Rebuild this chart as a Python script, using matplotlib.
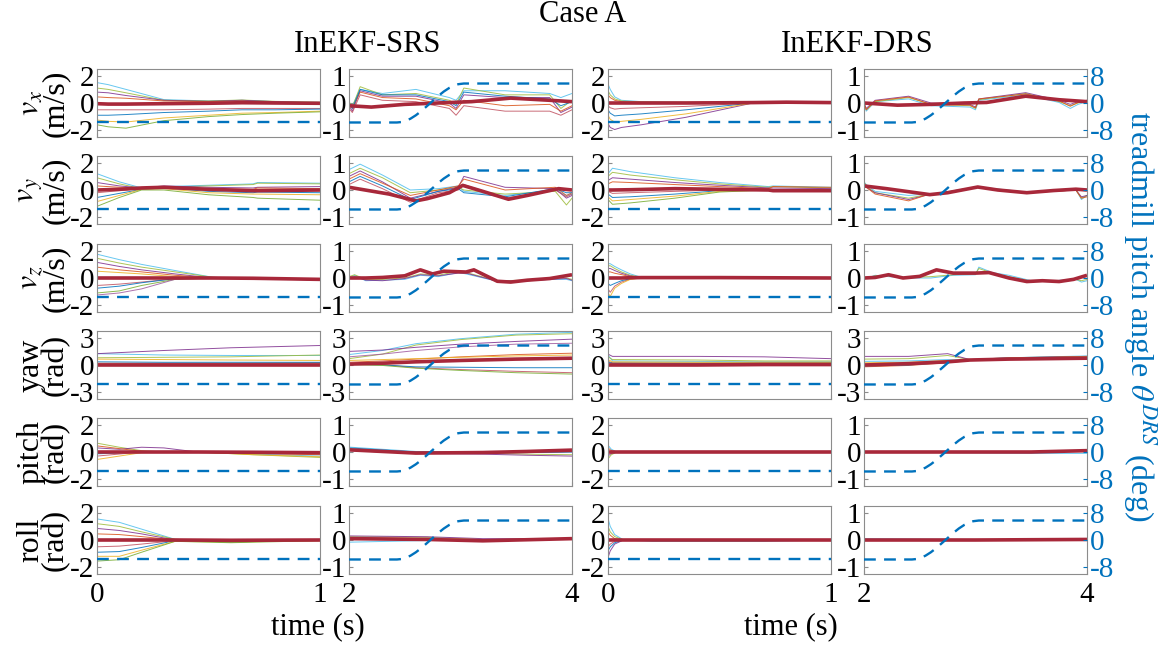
import matplotlib
matplotlib.use('Agg')
import matplotlib.pyplot as plt

plt.rcParams['font.family'] = 'Liberation Serif'
plt.rcParams['mathtext.fontset'] = 'stix'
plt.rcParams['axes.unicode_minus'] = False

# treadmill pitch angle (deg)
tilt_t1 = [0.0, 1.0]
tilt_1 = [-5.73, -5.73]
tilt_t2 = [2.0, 2.43, 2.47, 2.5, 2.55, 2.6, 2.65, 2.72, 2.8, 2.85, 2.9, 2.95, 2.98, 3.03, 4.0]
tilt_2 = [-5.73, -5.73, -5.6, -5.3, -4.64, -3.6, -2.33, -0.3, 2.05, 3.37, 4.45, 5.2, 5.53, 5.73, 5.73]

# ---- v_x ----
vx_srs_a_t = [0, 0.05, 0.13, 0.3, 0.5, 0.65, 0.8, 1.0]
vx_srs_a = [[1.5, 1.35, 1.0, 0.25, 0.15, 0.2, 0.1, 0.05],
            [1.1, 1.0, 0.75, 0.2, 0.15, 0.22, 0.12, 0.05],
            [0.8, 0.75, 0.55, 0.2, 0.12, 0.2, 0.1, 0.0],
            [0.45, 0.4, 0.35, 0.15, 0.1, 0.15, 0.05, -0.05],
            [-0.5, -0.5, -0.5, -0.5, -0.45, -0.4, -0.4, -0.4],
            [-0.9, -0.9, -0.85, -0.7, -0.6, -0.5, -0.5, -0.45],
            [-1.25, -1.35, -1.4, -1.1, -0.9, -0.75, -0.7, -0.6],
            [-1.6, -1.75, -1.85, -1.3, -1.0, -0.85, -0.75, -0.65]]
vx_srs_a_mean = [-0.05, -0.08, -0.08, -0.05, -0.02, 0.02, 0.0, -0.02]

vx_srs_b_t = [2.0, 2.03, 2.1, 2.3, 2.6, 2.9, 2.96, 3.03, 3.4, 3.8, 3.9, 4.0]
vx_srs_b = [[0.0, -0.1, 0.5, 0.35, 0.5, 0.2, 0.1, 0.45, 0.45, 0.35, 0.2, 0.35],
            [0.05, -0.15, 0.6, 0.3, 0.35, 0.1, -0.05, 0.55, 0.3, 0.3, -0.2, 0.1],
            [-0.1, -0.3, 0.45, 0.25, 0.25, 0.0, -0.2, 0.3, 0.2, 0.2, -0.35, -0.15],
            [-0.05, -0.2, 0.4, 0.2, 0.15, -0.1, -0.25, 0.1, -0.1, -0.05, -0.3, -0.1],
            [-0.2, -0.35, 0.3, 0.1, 0.05, -0.2, -0.45, -0.1, -0.3, -0.3, -0.45, -0.25],
            [0.0, -0.2, 0.5, 0.3, 0.3, 0.05, -0.1, 0.4, 0.25, 0.15, -0.1, 0.05]]
vx_srs_b_mt = [2.0, 2.2, 2.5, 2.8, 3.1, 3.45, 3.8, 4.0]
vx_srs_b_mean = [-0.1, -0.15, -0.05, 0.0, 0.05, 0.18, 0.1, 0.05]

vx_drs_a_t = [0, 0.01, 0.03, 0.06, 0.15, 0.35, 0.65, 0.8, 1.0]
vx_drs_a = [[1.4, 1.0, 0.45, 0.2, 0.1, 0.05, 0.05, 0.1, 0.05],
            [0.9, 0.6, 0.3, 0.15, 0.08, 0.05, 0.05, 0.08, 0.05],
            [-1.5, -1.8, -1.95, -1.8, -1.6, -1.05, 0.0, 0.05, 0.05],
            [0.6, 0.4, 0.2, 0.1, 0.05, 0.05, 0.05, 0.08, 0.05],
            [-0.2, -0.35, -0.45, -0.4, -0.35, -0.25, 0.0, 0.05, 0.05],
            [-0.5, -0.75, -0.95, -0.9, -0.8, -0.5, 0.0, 0.05, 0.05],
            [-0.9, -1.2, -1.4, -1.35, -1.2, -0.8, 0.0, 0.05, 0.05]]
vx_drs_a_mean = [0.0, 0.0, 0.0, 0.0, 0.0, 0.0, 0.03, 0.06, 0.03]

vx_drs_b_t = [2.0, 2.02, 2.1, 2.4, 2.6, 2.95, 3.0, 3.03, 3.45, 3.75, 3.85, 3.92, 4.0]
vx_drs_b = [[-0.05, -0.3, 0.05, 0.15, -0.1, -0.15, -0.25, 0.1, 0.3, 0.02, -0.2, -0.05, 0.05],
            [0.0, -0.25, 0.05, 0.2, -0.05, -0.1, -0.2, 0.12, 0.35, 0.05, -0.1, 0.0, 0.08],
            [0.0, -0.2, 0.1, 0.25, 0.0, -0.05, -0.15, 0.15, 0.38, 0.1, -0.05, 0.05, 0.1],
            [0.0, -0.25, 0.08, 0.22, -0.05, -0.08, -0.18, 0.15, 0.33, 0.08, -0.12, 0.02, 0.1]]
vx_drs_b_mt = [2.0, 2.3, 2.6, 2.9, 3.1, 3.45, 3.75, 4.0]
vx_drs_b_mean = [0.0, -0.08, -0.05, 0.0, 0.02, 0.25, 0.12, 0.05]

# ---- v_y ----
vy_srs_a_t = [0, 0.1, 0.2, 0.3, 0.5, 0.7, 0.72, 1.0]
vy_srs_a = [[1.2, 0.6, 0.15, 0.25, 0.35, 0.45, 0.55, 0.5],
            [0.9, 0.45, 0.1, 0.2, 0.3, 0.4, 0.5, 0.45],
            [0.55, 0.3, 0.15, 0.3, 0.2, 0.15, 0.2, 0.25],
            [0.3, 0.2, 0.15, 0.2, 0.1, 0.05, 0.15, 0.1],
            [-0.2, -0.05, 0.1, 0.2, 0.0, -0.1, -0.05, -0.05],
            [-0.55, -0.25, 0.05, 0.15, -0.1, -0.2, -0.15, -0.2],
            [-0.85, -0.4, 0.05, 0.1, -0.2, -0.3, -0.3, -0.35],
            [-1.2, -0.55, 0.0, 0.0, -0.35, -0.55, -0.6, -0.75]]
vy_srs_a_mean = [0.0, 0.05, 0.15, 0.2, 0.05, -0.05, -0.05, 0.0]

vy_srs_b_t = [2.0, 2.1, 2.3, 2.55, 2.8, 2.98, 3.03, 3.4, 3.85, 3.95, 4.0]
vy_srs_b = [[0.75, 0.95, 0.55, 0.0, 0.05, 0.15, -0.05, -0.2, 0.0, -0.2, -0.15],
            [0.6, 0.8, 0.45, -0.1, 0.0, 0.1, 0.0, -0.15, -0.05, -0.55, -0.3],
            [0.5, 0.7, 0.3, -0.3, -0.05, 0.1, 0.5, 0.1, 0.05, -0.3, -0.2],
            [0.4, 0.6, 0.25, -0.2, 0.0, 0.15, 0.4, 0.0, 0.1, -0.2, -0.1],
            [0.2, 0.4, 0.05, -0.45, -0.1, 0.0, 0.2, -0.3, 0.0, -0.25, -0.15],
            [0.3, 0.5, 0.15, -0.35, -0.05, 0.05, -0.1, -0.25, 0.05, -0.1, -0.1]]
vy_srs_b_mt = [2.0, 2.36, 2.6, 2.7, 2.9, 3.02, 3.2, 3.43, 3.6, 3.88, 4.0]
vy_srs_b_mean = [0.1, -0.15, -0.4, -0.32, -0.1, 0.17, -0.05, -0.34, -0.2, 0.05, 0.0]

vy_drs_a_t = [0, 0.02, 0.1, 0.3, 0.5, 0.72, 0.74, 1.0]
vy_drs_a = [[1.2, 1.6, 1.35, 0.9, 0.55, 0.25, 0.3, 0.2],
            [1.0, 1.3, 1.1, 0.75, 0.45, 0.2, 0.25, 0.15],
            [0.7, 0.9, 0.8, 0.55, 0.35, 0.15, 0.15, 0.1],
            [0.45, 0.6, 0.55, 0.4, 0.25, 0.1, 0.25, 0.2],
            [-0.1, -0.25, -0.2, -0.1, 0.0, 0.0, 0.0, 0.0],
            [-0.3, -0.55, -0.5, -0.3, -0.05, 0.0, 0.0, 0.0],
            [-0.5, -0.8, -0.7, -0.45, -0.1, 0.0, 0.0, -0.05],
            [-0.7, -1.05, -0.95, -0.6, -0.15, 0.0, 0.0, -0.05]]
vy_drs_a_mean = [0.0, 0.0, 0.02, 0.1, 0.05, 0.0, -0.05, -0.05]

vy_drs_b_t = [2.0, 2.02, 2.1, 2.4, 2.55, 2.6, 3.02, 3.46, 3.9, 3.95, 4.0]
vy_drs_b = [[0.3, 0.2, -0.05, -0.2, -0.15, -0.16, 0.12, -0.08, 0.02, -0.35, -0.2],
            [0.3, 0.15, -0.1, -0.3, -0.18, -0.17, 0.12, -0.1, 0.0, -0.3, -0.2],
            [0.2, 0.1, -0.1, -0.35, -0.2, -0.17, 0.1, -0.1, 0.0, -0.25, -0.2],
            [0.25, 0.1, -0.15, -0.4, -0.2, -0.17, 0.1, -0.1, 0.0, -0.3, -0.25]]
vy_drs_b_mt = [2.0, 2.2, 2.59, 2.75, 3.02, 3.2, 3.46, 3.7, 3.9, 4.0]
vy_drs_b_mean = [0.15, 0.05, -0.17, -0.1, 0.11, 0.0, -0.1, -0.02, 0.03, 0.0]

# ---- v_z ----
vz_srs_a_t = [0, 0.1, 0.2, 0.35, 0.52, 0.7, 1.0]
vz_srs_a = [[1.75, 1.35, 1.0, 0.55, 0.05, -0.05, -0.1],
            [1.45, 1.1, 0.8, 0.45, 0.05, -0.05, -0.1],
            [1.15, 0.85, 0.6, 0.3, 0.0, -0.05, -0.15],
            [0.8, 0.6, 0.45, 0.2, 0.0, -0.05, -0.1],
            [-0.55, -0.45, -0.3, -0.05, 0.0, 0.0, -0.1],
            [-0.75, -0.6, -0.35, -0.05, 0.0, 0.0, -0.15],
            [0.5, 0.4, 0.3, 0.1, 0.0, -0.05, -0.1],
            [-1.1, -0.95, -0.55, -0.1, 0.0, 0.0, -0.15],
            [-1.25, -1.1, -0.8, -0.1, 0.0, 0.0, -0.15]]
vz_srs_a_mean = [0.0, 0.0, 0.0, 0.0, 0.0, -0.02, -0.1]

vz_srs_b_t = [2.0, 2.05, 2.15, 2.3, 2.5, 2.64, 2.8, 2.98, 3.05, 3.33, 3.6, 3.8, 3.95, 4.0]
vz_srs_b = [[0.0, 0.1, -0.1, -0.08, -0.05, 0.1, 0.05, 0.2, 0.15, -0.12, -0.1, -0.05, -0.05, -0.1],
            [0.05, 0.12, -0.05, -0.05, 0.0, 0.15, 0.1, 0.25, 0.2, -0.1, -0.08, -0.02, 0.0, -0.05],
            [-0.02, 0.05, -0.08, -0.1, -0.02, 0.12, 0.08, 0.18, 0.18, -0.12, -0.1, -0.05, -0.02, -0.08]]
vz_srs_b_mt = [2.0, 2.15, 2.3, 2.5, 2.64, 2.75, 2.85, 3.05, 3.12, 3.33, 3.45, 3.6, 3.8, 4.0]
vz_srs_b_mean = [0.0, 0.0, 0.02, 0.08, 0.3, 0.15, 0.25, 0.22, 0.3, -0.12, -0.15, -0.08, -0.02, 0.12]

vz_drs_a_t = [0, 0.01, 0.03, 0.06, 0.1, 0.15, 0.5, 1.0]
vz_drs_a = [[1.05, 1.05, 0.85, 0.6, 0.3, 0.05, 0.05, 0.0],
            [0.9, 0.9, 0.7, 0.45, 0.2, 0.05, 0.05, 0.0],
            [0.7, 0.7, 0.55, 0.35, 0.15, 0.05, 0.05, 0.0],
            [0.45, 0.45, 0.35, 0.25, 0.1, 0.05, 0.05, 0.0],
            [-0.8, -1.05, -0.6, -0.3, -0.08, 0.0, 0.03, 0.0],
            [-0.4, -0.55, -0.4, -0.2, -0.05, 0.0, 0.03, 0.0],
            [-1.1, -1.35, -0.75, -0.4, -0.1, 0.0, 0.03, 0.0]]
vz_drs_a_mean = [0.0, 0.0, 0.0, 0.0, 0.02, 0.03, 0.03, 0.0]

vz_drs_b_t = [2.0, 2.1, 2.22, 2.4, 2.6, 2.8, 3.0, 3.03, 3.15, 3.3, 3.5, 3.7, 3.9, 3.95, 4.0]
vz_drs_b = [[-0.05, 0.1, 0.05, 0.0, 0.0, 0.1, 0.12, 0.4, 0.2, 0.1, -0.1, -0.1, -0.05, -0.15, -0.1],
            [-0.02, 0.08, 0.08, 0.02, 0.05, 0.12, 0.15, 0.35, 0.18, 0.05, -0.12, -0.12, -0.05, -0.1, -0.05]]
vz_drs_b_mt = [2.0, 2.1, 2.22, 2.35, 2.5, 2.65, 2.8, 3.0, 3.12, 3.3, 3.46, 3.6, 3.75, 3.88, 4.0]
vz_drs_b_mean = [0.0, 0.02, 0.12, 0.0, 0.06, 0.3, 0.18, 0.18, 0.2, 0.0, -0.13, -0.1, -0.13, -0.05, 0.1]

# ---- yaw ----
yaw_srs_a_t = [0, 0.3, 0.6, 1.0]
yaw_srs_a = [[1.25, 1.1, 1.05, 1.05],
             [0.8, 0.85, 0.9, 1.1],
             [1.25, 1.6, 1.9, 2.15],
             [0.2, 0.2, 0.2, 0.25],
             [0.1, 0.15, 0.15, 0.2],
             [0.35, 0.3, 0.3, 0.3],
             [0.65, 0.6, 0.55, 0.5]]
yaw_srs_a_mean = [0.05, 0.05, 0.05, 0.05]

yaw_srs_b_t = [2.0, 2.3, 2.6, 3.0, 3.5, 4.0]
yaw_srs_b = [[1.15, 1.6, 2.35, 2.9, 3.4, 3.6],
             [0.7, 1.2, 2.2, 2.8, 3.3, 3.45],
             [1.5, 1.65, 1.95, 2.3, 2.6, 2.85],
             [0.3, 0.45, 0.65, 0.9, 1.15, 1.3],
             [0.15, 0.05, -0.3, -0.5, -0.7, -0.85],
             [0.1, 0.0, -0.2, -0.25, -0.3, -0.3],
             [0.5, 0.6, 0.7, 0.85, 1.0, 1.1],
             [0.05, -0.05, -0.35, -0.6, -0.85, -1.0],
             [0.9, 1.2, 1.6, 2.0, 2.3, 2.4]]
yaw_srs_b_mt = [2.0, 2.3, 2.6, 3.0, 3.5, 4.0]
yaw_srs_b_mean = [0.1, 0.2, 0.35, 0.5, 0.65, 0.75]

yaw_drs_a_t = [0, 0.02, 0.4, 0.7, 1.0]
yaw_drs_a = [[1.1, 0.45, 0.4, 0.35, 0.35],
             [0.9, 0.6, 0.55, 0.45, 0.45],
             [1.2, 0.95, 0.95, 0.9, 0.7],
             [0.4, 0.25, 0.2, 0.2, 0.2],
             [0.2, 0.15, 0.15, 0.15, 0.2],
             [0.3, 0.2, 0.2, 0.25, 0.25],
             [0.6, 0.35, 0.3, 0.3, 0.3]]
yaw_drs_a_mean = [0.0, 0.0, 0.0, 0.05, 0.05]

yaw_drs_b_t = [2.0, 2.4, 2.75, 2.95, 3.3, 4.0]
yaw_drs_b = [[0.4, 0.45, 0.6, 0.55, 0.8, 1.0],
             [0.65, 0.7, 1.05, 0.6, 0.8, 0.95],
             [0.95, 0.95, 1.25, 0.6, 0.8, 0.95],
             [-0.2, -0.05, 0.25, 0.5, 0.75, 0.9],
             [0.1, 0.15, 0.35, 0.5, 0.7, 0.85],
             [-0.1, 0.0, 0.3, 0.5, 0.7, 0.85],
             [0.25, 0.3, 0.5, 0.55, 0.75, 0.9]]
yaw_drs_b_mt = [2.0, 2.4, 2.75, 2.95, 3.3, 4.0]
yaw_drs_b_mean = [0.0, 0.15, 0.35, 0.55, 0.65, 0.75]

# ---- pitch ----
pitch_srs_a_t = [0, 0.1, 0.2, 0.3, 0.45, 0.7, 1.0]
pitch_srs_a = [[-0.15, -0.05, 0.0, 0.0, 0.0, -0.15, -0.3],
               [0.65, 0.35, 0.1, 0.0, 0.0, -0.2, -0.4],
               [0.3, 0.2, 0.35, 0.3, 0.0, -0.1, -0.15],
               [0.45, 0.25, 0.05, 0.0, 0.0, -0.1, -0.2],
               [-0.3, -0.15, 0.0, 0.0, 0.0, -0.05, -0.1],
               [-0.1, -0.05, 0.0, 0.0, 0.0, -0.05, -0.1],
               [-0.55, -0.3, -0.05, 0.0, 0.0, -0.2, -0.35]]
pitch_srs_a_mean = [0.0, 0.0, 0.0, 0.0, 0.0, -0.02, -0.05]

pitch_srs_b_t = [2.0, 2.6, 3.2, 3.6, 4.0]
pitch_srs_b = [[0.18, 0.02, 0.0, 0.02, 0.05],
               [0.12, -0.02, -0.05, -0.08, -0.1],
               [0.05, -0.05, -0.08, -0.12, -0.15],
               [0.08, 0.0, -0.02, 0.0, 0.02],
               [0.1, 0.0, -0.03, -0.02, 0.0],
               [0.15, 0.0, -0.03, -0.02, 0.0]]
pitch_srs_b_mt = [2.0, 2.6, 3.2, 3.6, 4.0]
pitch_srs_b_mean = [0.08, -0.04, -0.02, 0.02, 0.07]

pitch_drs_a_t = [0, 0.015, 0.04, 1.0]
pitch_drs_a = [[0.5, 0.2, 0.0, 0.0],
               [-0.5, -0.2, 0.0, 0.0],
               [-0.3, -0.1, 0.0, 0.0],
               [0.3, 0.1, 0.0, 0.0]]
pitch_drs_a_mean = [0.0, 0.0, 0.0, 0.0]

pitch_drs_b_t = [2.0, 3.0, 3.5, 4.0]
pitch_drs_b = [[0.0, -0.03, -0.05, -0.05]]
pitch_drs_b_mt = [2.0, 3.0, 3.5, 4.0]
pitch_drs_b_mean = [0.0, 0.0, 0.0, 0.05]

# ---- roll ----
roll_srs_a_t = [0, 0.1, 0.2, 0.35, 0.6, 1.0]
roll_srs_a = [[1.55, 1.3, 0.8, 0.05, -0.1, 0.0],
              [1.2, 1.0, 0.6, 0.05, -0.1, 0.0],
              [0.85, 0.7, 0.45, 0.0, -0.15, 0.0],
              [0.45, 0.4, 0.25, 0.0, -0.05, 0.0],
              [-0.5, -0.45, -0.3, -0.05, -0.1, 0.0],
              [-0.9, -0.85, -0.55, -0.05, -0.15, 0.0],
              [-1.2, -1.2, -0.75, -0.1, -0.15, -0.05],
              [-1.55, -1.45, -0.9, -0.1, -0.2, -0.05]]
roll_srs_a_mean = [0.0, 0.0, 0.0, 0.0, -0.02, 0.0]

roll_srs_b_t = [2.0, 2.7, 3.2, 4.0]
roll_srs_b = [[-0.08, -0.02, 0.0, 0.05],
              [0.12, 0.1, 0.02, 0.05],
              [0.15, 0.12, 0.05, 0.05],
              [0.08, 0.05, 0.02, 0.03]]
roll_srs_b_mt = [2.0, 2.7, 3.2, 4.0]
roll_srs_b_mean = [0.05, 0.02, -0.03, 0.05]

roll_drs_a_t = [0, 0.01, 0.03, 0.07, 0.2, 0.7, 1.0]
roll_drs_a = [[1.6, 1.0, 0.4, 0.0, -0.1, -0.1, 0.0],
              [1.0, 0.6, 0.25, 0.0, -0.05, -0.05, 0.0],
              [-1.3, -0.8, -0.3, 0.0, 0.0, 0.0, 0.0],
              [0.6, 0.35, 0.1, 0.0, 0.0, 0.0, 0.0],
              [-0.5, -0.3, -0.1, 0.0, 0.0, 0.0, 0.0],
              [-0.8, -0.5, -0.2, 0.0, -0.05, -0.05, 0.0]]
roll_drs_a_mean = [0.0, 0.0, 0.0, 0.0, 0.0, 0.0, 0.0]

roll_drs_b_t = [2.0, 3.0, 4.0]
roll_drs_b = [[0.05, 0.02, 0.0]]
roll_drs_b_mt = [2.0, 3.0, 4.0]
roll_drs_b_mean = [0.0, 0.0, 0.02]

row_labels = ['$v_x$\n(m/s)', '$v_y$\n(m/s)', '$v_z$\n(m/s)',
              'yaw\n(rad)', 'pitch\n(rad)', 'roll\n(rad)']

panels = [
    [(vx_srs_a_t, vx_srs_a, vx_srs_a_t, vx_srs_a_mean),
     (vx_srs_b_t, vx_srs_b, vx_srs_b_mt, vx_srs_b_mean),
     (vx_drs_a_t, vx_drs_a, vx_drs_a_t, vx_drs_a_mean),
     (vx_drs_b_t, vx_drs_b, vx_drs_b_mt, vx_drs_b_mean)],
    [(vy_srs_a_t, vy_srs_a, vy_srs_a_t, vy_srs_a_mean),
     (vy_srs_b_t, vy_srs_b, vy_srs_b_mt, vy_srs_b_mean),
     (vy_drs_a_t, vy_drs_a, vy_drs_a_t, vy_drs_a_mean),
     (vy_drs_b_t, vy_drs_b, vy_drs_b_mt, vy_drs_b_mean)],
    [(vz_srs_a_t, vz_srs_a, vz_srs_a_t, vz_srs_a_mean),
     (vz_srs_b_t, vz_srs_b, vz_srs_b_mt, vz_srs_b_mean),
     (vz_drs_a_t, vz_drs_a, vz_drs_a_t, vz_drs_a_mean),
     (vz_drs_b_t, vz_drs_b, vz_drs_b_mt, vz_drs_b_mean)],
    [(yaw_srs_a_t, yaw_srs_a, yaw_srs_a_t, yaw_srs_a_mean),
     (yaw_srs_b_t, yaw_srs_b, yaw_srs_b_mt, yaw_srs_b_mean),
     (yaw_drs_a_t, yaw_drs_a, yaw_drs_a_t, yaw_drs_a_mean),
     (yaw_drs_b_t, yaw_drs_b, yaw_drs_b_mt, yaw_drs_b_mean)],
    [(pitch_srs_a_t, pitch_srs_a, pitch_srs_a_t, pitch_srs_a_mean),
     (pitch_srs_b_t, pitch_srs_b, pitch_srs_b_mt, pitch_srs_b_mean),
     (pitch_drs_a_t, pitch_drs_a, pitch_drs_a_t, pitch_drs_a_mean),
     (pitch_drs_b_t, pitch_drs_b, pitch_drs_b_mt, pitch_drs_b_mean)],
    [(roll_srs_a_t, roll_srs_a, roll_srs_a_t, roll_srs_a_mean),
     (roll_srs_b_t, roll_srs_b, roll_srs_b_mt, roll_srs_b_mean),
     (roll_drs_a_t, roll_drs_a, roll_drs_a_t, roll_drs_a_mean),
     (roll_drs_b_t, roll_drs_b, roll_drs_b_mt, roll_drs_b_mean)],
]

thin_colors = ['#4DBEEE', '#9DBB3A', '#7E2F8E', '#D95319', '#C0505F', '#0072BD', '#EDB120', '#77AC30', '#A05A9E']
blue = '#0072BD'
gray = '#8c8c8c'

W, H = 1163, 645
col_x = [97, 349, 608, 864]
row_y = [69, 156, 244, 331, 418, 506]
aw, ah = 223, 68

fig = plt.figure(figsize=(W / 100, H / 100), dpi=100)

for i in range(6):
    for j in range(4):
        ax = fig.add_axes([col_x[j] / W, 1 - (row_y[i] + ah) / H, aw / W, ah / H])
        t, lines, mt, mean = panels[i][j]
        for k, ln in enumerate(lines):
            ax.plot(t, ln, color=thin_colors[k % len(thin_colors)], lw=0.7, alpha=0.85)
        ax.plot(mt, mean, color='#A8283A', lw=2.6, solid_capstyle='butt')

        if i == 3:
            ticks = [-3, 0, 3]
        elif j in (0, 2):
            ticks = [-2, 0, 2]
        else:
            ticks = [-1, 0, 1]
        ax.set_ylim(-1.25 * ticks[2], 1.25 * ticks[2])
        ax.set_yticks(ticks)
        if j in (0, 2):
            ax.set_xlim(0, 1)
            ax.set_xticks([0, 1])
        else:
            ax.set_xlim(2, 4)
            ax.set_xticks([2, 4])
        ax.tick_params(direction='in', length=3, color=gray, labelsize=21, pad=2)
        ax.tick_params(axis='x', pad=6)
        if i < 5:
            ax.set_xticklabels([])
        for s in ax.spines.values():
            s.set_color(gray)
            s.set_linewidth(0.8)
        if j == 0:
            ax.set_ylabel(row_labels[i], fontsize=23, linespacing=0.8, labelpad=0)

        tw = ax.twinx()
        if j in (0, 2):
            tw.plot(tilt_t1, tilt_1, color=blue, lw=1.7, ls=(0, (5, 3.5)))
        else:
            tw.plot(tilt_t2, tilt_2, color=blue, lw=1.7, ls=(0, (5, 3.5)))
        tw.set_ylim(-10, 10)
        tw.set_xlim(ax.get_xlim())
        for s in tw.spines.values():
            s.set_visible(False)
        if j == 3:
            tw.set_yticks([-8, 0, 8])
            tw.tick_params(direction='in', length=3, color=blue, labelcolor=blue, labelsize=21, pad=2)
        else:
            tw.set_yticks([])

fig.text(583 / W, 1 - 15 / H, 'Case A', ha='center', va='center', fontsize=22)
fig.text(368 / W, 1 - 44 / H, 'InEKF-SRS', ha='center', va='center', fontsize=22)
fig.text(857 / W, 1 - 44 / H, 'InEKF-DRS', ha='center', va='center', fontsize=22)
fig.text(318 / W, 1 - 627 / H, 'time (s)', ha='center', va='center', fontsize=22)
fig.text(791 / W, 1 - 627 / H, 'time (s)', ha='center', va='center', fontsize=22)
fig.text(1140 / W, 1 - 316 / H, r'treadmill pitch angle $\theta^{DRS}$ (deg)', ha='center', va='center',
         rotation=270, color=blue, fontsize=23)

plt.savefig('out.png', dpi=100)
